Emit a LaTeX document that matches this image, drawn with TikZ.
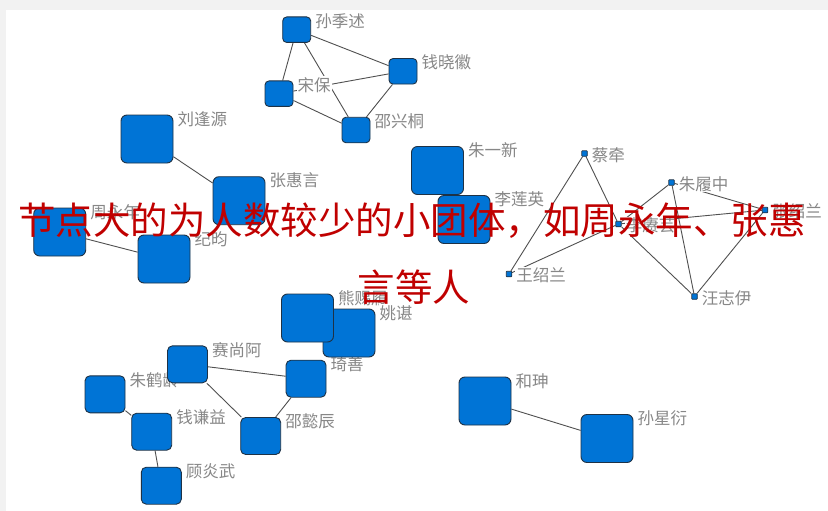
\documentclass[tikz,border=0pt]{standalone}
\usepackage{fontspec}
\newfontfamily\cjk{Noto Sans CJK SC}
\definecolor{nodeblue}{RGB}{0,116,214}
\definecolor{nodeline}{RGB}{30,50,70}
\definecolor{edgecol}{RGB}{80,80,80}
\definecolor{lblgray}{RGB}{135,135,135}
\definecolor{redtxt}{RGB}{192,0,0}
\definecolor{framegray}{RGB}{242,242,242}
\pgfdeclarelayer{bg}
\pgfdeclarelayer{edges}
\pgfdeclarelayer{labels}
\pgfsetlayers{bg,edges,labels,main}
\newcommand\mylab[2]{\node[lbl] (l#1) at ([xshift=3pt,yshift=-4.5pt]#1.north east) {#2};}
\begin{document}
\begin{tikzpicture}[x=1pt,y=-1pt,
  box/.style={draw=nodeline,fill=nodeblue,line width=0.9pt,inner sep=0pt},
  bignode/.style={box,minimum width=52pt,minimum height=48pt,rounded corners=6pt},
  midnode/.style={box,minimum width=40pt,minimum height=37pt,rounded corners=5pt},
  smnode/.style={box,minimum width=28pt,minimum height=25.5pt,rounded corners=4pt},
  tinynode/.style={box,line width=0.7pt,minimum width=5.5pt,minimum height=5.5pt,rounded corners=0.6pt},
  lbl/.style={font=\cjk\fontsize{16.5}{18}\selectfont,text=lblgray,fill=white,inner sep=1pt,anchor=west},
  edge/.style={draw=edgecol,line width=0.9pt},
  caption/.style={font=\cjk\fontsize{37.5}{40}\selectfont,text=redtxt,inner sep=0pt}]
\useasboundingbox (0,0) rectangle (828,511);
\begin{pgfonlayer}{bg}
  \fill[framegray] (0,0) rectangle (828,511);
  \fill[white] (6,10) rectangle (828,511);
\end{pgfonlayer}

% nodes
\node[smnode] (sjs) at (296.7,29.7) {};
\node[smnode] (qxh) at (403,71.3) {};
\node[smnode] (sb) at (279,93.7) {};
\node[smnode] (sxt) at (356,130) {};
\node[bignode] (lfy) at (147,139) {};
\node[bignode] (zhy) at (239,200.7) {};
\node[bignode] (zyn) at (59.7,232) {};
\node[bignode] (jy) at (164,259) {};
\node[bignode] (lly) at (464,219.5) {};
\node[bignode] (zyx) at (437.5,170.5) {};
\node[tinynode] (cq) at (584.5,153.5) {};
\node[tinynode] (zlz) at (671.5,182.5) {};
\node[tinynode] (xsl) at (765,210) {};
\node[tinynode] (lgy) at (618.5,224) {};
\node[tinynode] (wsl) at (509,274) {};
\node[tinynode] (wzy) at (694.5,296.5) {};
\node[bignode] (ych) at (349,333) {};
\node[bignode] (xcl) at (307.5,318) {};
\node[midnode] (ssa) at (187.5,364.3) {};
\node[midnode] (qs) at (306,378.7) {};
\node[midnode] (zhl) at (105,394.3) {};
\node[midnode] (qqy) at (151.7,431.7) {};
\node[midnode] (syc) at (260.7,436) {};
\node[midnode] (gyw) at (161.3,485.7) {};
\node[bignode] (hs) at (485,401) {};
\node[bignode] (sxy) at (607,438.5) {};

% labels
\begin{pgfonlayer}{labels}
  \mylab{sjs}{孙季述}
  \mylab{qxh}{钱晓徽}
  \mylab{sb}{宋保}
  \mylab{sxt}{邵兴桐}
  \mylab{lfy}{刘逢源}
  \mylab{zhy}{张惠言}
  \mylab{zyn}{周永年}
  \mylab{jy}{纪昀}
  \mylab{zyx}{朱一新}
  \mylab{lly}{李莲英}
  \mylab{cq}{蔡牵}
  \mylab{zlz}{朱履中}
  \mylab{xsl}{张绍兰}
  \mylab{lgy}{李赓芸}
  \mylab{wsl}{王绍兰}
  \mylab{wzy}{汪志伊}
  \mylab{xcl}{熊赐履}
  \mylab{ych}{姚谌}
  \mylab{ssa}{赛尚阿}
  \mylab{qs}{琦善}
  \mylab{zhl}{朱鹤龄}
  \mylab{qqy}{钱谦益}
  \mylab{syc}{邵懿辰}
  \mylab{gyw}{顾炎武}
  \mylab{hs}{和珅}
  \mylab{sxy}{孙星衍}
\end{pgfonlayer}

% edges
\begin{pgfonlayer}{edges}
  \draw[edge] (sjs) -- (qxh);
  \draw[edge] (sjs) -- (sb);
  \draw[edge] (sjs) -- (sxt);
  \draw[edge] (sb) -- (qxh);
  \draw[edge] (sb) -- (sxt);
  \draw[edge] (sxt) -- (qxh);
  \draw[edge] (lfy) -- (zhy);
  \draw[edge] (zyn) -- (jy);
  \draw[edge] (cq) -- (wsl);
  \draw[edge] (cq) -- (lgy);
  \draw[edge] (wsl) -- (lgy);
  \draw[edge] (lgy) -- (zlz);
  \draw[edge] (lgy) -- (wzy);
  \draw[edge] (lgy) -- (xsl);
  \draw[edge] (zlz) -- (wzy);
  \draw[edge] (zlz) -- (xsl);
  \draw[edge] (wzy) -- (xsl);
  \draw[edge] (ssa) -- (qs);
  \draw[edge] (ssa) -- (syc);
  \draw[edge] (qs) -- (syc);
  \draw[edge] (zhl) -- (qqy);
  \draw[edge] (qqy) -- (gyw);
  \draw[edge] (hs) -- (sxy);
\end{pgfonlayer}

% caption
\node[caption] (cap1) at (412,221) {节点大的为人数较少的小团体，如周永年、张惠};
\node[caption] (cap2) at (414,287) {言等人};
\end{tikzpicture}
\end{document}
